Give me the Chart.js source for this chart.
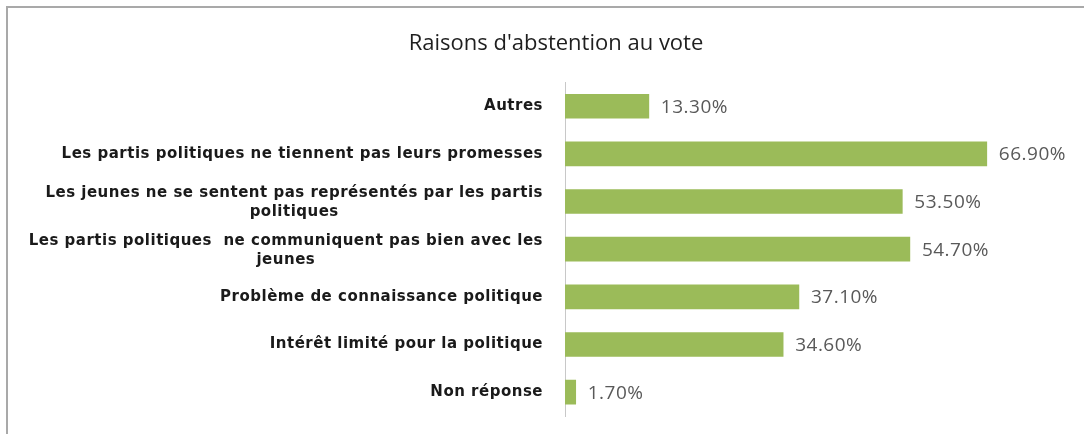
<!DOCTYPE html>
<html>
<head>
<meta charset="utf-8">
<script src="https://cdn.jsdelivr.net/npm/chart.js@4.4.1/dist/chart.umd.min.js"></script>
<style>
html, body { margin: 0; padding: 0; background: #fff; }
#wrap { width: 1087px; height: 434px; position: relative; }
</style>
</head>
<body>
<div id="wrap"><canvas id="grafico"></canvas></div>
<script>
var titre = "Raisons d'abstention au vote";
var categories = [
    ['Autres'],
    ['Les partis politiques ne tiennent pas leurs promesses'],
    ['Les jeunes ne se sentent pas représentés par les partis', 'politiques'],
    ['Les partis politiques  ne communiquent pas bien avec les', 'jeunes'],
    ['Problème de connaissance politique'],
    ['Intérêt limité pour la politique'],
    ['Non réponse']
];
var valeurs = [13.3, 66.9, 53.5, 54.7, 37.1, 34.6, 1.7];

// cadre + etiquettes des categories et des valeurs
var etiquettes = {
    id: 'etiquettes',
    beforeDraw: function(chart){
        var ctx = chart.ctx;
        ctx.save();
        ctx.fillStyle = '#a9a9a9';
        ctx.fillRect(6, 6, 1078, 2);
        ctx.fillRect(6, 6, 2, 428);
        ctx.restore();
    },
    afterDatasetsDraw: function(chart){
        var ctx = chart.ctx;
        var y = chart.scales.y;
        var xr = chart.chartArea.left - 22;
        ctx.save();
        ctx.font = 'bold 15px "DejaVu Sans"';
        ctx.letterSpacing = '0.5px';
        ctx.fillStyle = '#1a1a1a';
        ctx.textBaseline = 'middle';
        categories.forEach(function(lignes, i){
            var cy = y.getPixelForValue(i);
            if(lignes.length == 1){
                ctx.textAlign = 'right';
                ctx.fillText(lignes[0], xr, cy);
            } else {
                var w = ctx.measureText(lignes[0]).width;
                ctx.textAlign = 'center';
                ctx.fillText(lignes[0], xr - w / 2, cy - 8);
                ctx.fillText(lignes[1], xr - w / 2, cy + 11);
            }
        });

        ctx.letterSpacing = '0.5px';
        ctx.font = '19px "Open Sans"';
        ctx.fillStyle = '#595959';
        ctx.textAlign = 'left';
        var meta = chart.getDatasetMeta(0);
        meta.data.forEach(function(bar, i){
            ctx.fillText(valeurs[i].toFixed(2) + '%', bar.x + 12, bar.y + 1);
        });
        ctx.restore();
    }
};

var ctx = document.getElementById('grafico');
var grafico = new Chart(ctx, {
    type: 'bar',
    data: {
        labels: categories,
        datasets: [{
            data: valeurs,
            backgroundColor: '#9bbb59',
            borderWidth: 0,
            barThickness: 24
        }]
    },
    options: {
        indexAxis: 'y',
        responsive: true,
        maintainAspectRatio: false,
        animation: false,
        layout: {
            padding: { left: 30, right: 5, top: 28, bottom: 18 }
        },
        scales: {
            x: {
                display: false,
                min: 0,
                max: 82
            },
            y: {
                grid: { display: false },
                border: { display: true, color: '#c8c8c8', width: 1 },
                ticks: { display: false },
                afterFit: function(scale){ scale.width = 535; }
            }
        },
        plugins: {
            legend: { display: false },
            tooltip: { enabled: false },
            title: {
                display: true,
                text: titre,
                color: '#1f1f1f',
                font: { family: '"Open Sans"', size: 22, weight: 'normal' },
                padding: { top: 3, bottom: 25 }
            }
        }
    },
    plugins: [etiquettes]
});
</script>
</body>
</html>
